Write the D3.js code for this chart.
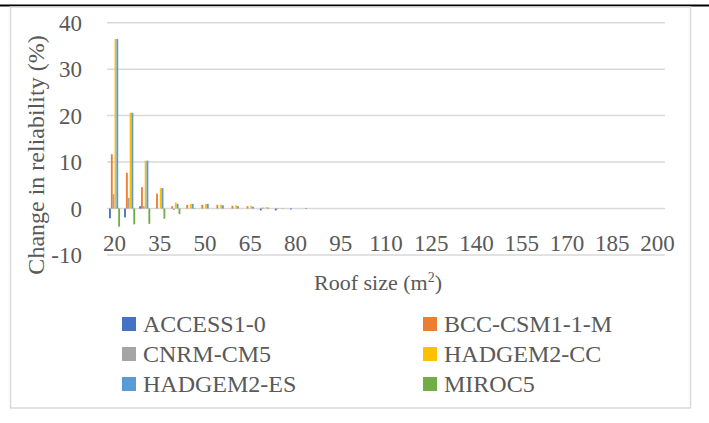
<!DOCTYPE html>
<html>
<head>
<meta charset="utf-8">
<script src="https://cdn.jsdelivr.net/npm/d3@7"></script>
<style>
  html, body { margin: 0; padding: 0; background: #fff; }
  svg { display: block; }
</style>
</head>
<body>
<svg id="chart"></svg>
<script>
// Roof size categories (m2)
const categories = [20, 25, 30, 35, 40, 45, 50, 55, 60, 65, 70, 75, 80, 85, 90, 95, 100,
  105, 110, 115, 120, 125, 130, 135, 140, 145, 150, 155, 160, 165, 170, 175, 180, 185, 190, 195, 200];
const xTickLabels = [20, 35, 50, 65, 80, 95, 110, 125, 140, 155, 170, 185, 200];
const yTicks = [-10, 0, 10, 20, 30, 40];

const seriesNames = ["ACCESS1-0", "BCC-CSM1-1-M", "CNRM-CM5", "HADGEM2-CC", "HADGEM2-ES", "MIROC5"];
const seriesColors = ["#4472C4", "#ED7D31", "#A5A5A5", "#FFC000", "#5B9BD5", "#70AD47"];

// change in reliability (%)
const access = [-2.1, -1.9, 0.5, 0, 0, 0, 0, 0, 0, 0, -0.4, -0.4, -0.2, -0.1, 0, 0, 0,
  0, 0, 0, 0, 0, 0, 0, 0, 0, 0, 0, 0, 0, 0, 0, 0, 0, 0, 0, 0];
const bcc = [11.7, 7.7, 4.6, 3.2, 0.5, 0.8, 0.8, 0.8, 0.6, 0.5, 0.2, 0.1, 0, 0, 0, 0, 0,
  0, 0, 0, 0, 0, 0, 0, 0, 0, 0, 0, 0, 0, 0, 0, 0, 0, 0, 0, 0];
const cnrm = [3.1, 2.3, 0.5, 0, -0.3, 0, 0, 0, 0, 0, 0, 0, 0, 0, 0, 0, 0,
  0, 0, 0, 0, 0, 0, 0, 0, 0, 0, 0, 0, 0, 0, 0, 0, 0, 0, 0, 0];
const hadgemCC = [36.5, 20.6, 10.3, 4.4, 1.3, 1.0, 1.0, 0.8, 0.7, 0.6, 0.3, 0.1, 0, 0, 0, 0, 0,
  0, 0, 0, 0, 0, 0, 0, 0, 0, 0, 0, 0, 0, 0, 0, 0, 0, 0, 0, 0];
const hadgemES = [36.5, 20.6, 10.3, 4.4, 1.0, 1.0, 1.0, 0.7, 0.5, 0.4, 0.2, 0.05, 0, 0, 0, 0, 0,
  0, 0, 0, 0, 0, 0, 0, 0, 0, 0, 0, 0, 0, 0, 0, 0, 0, 0, 0, 0];
const miroc = [-3.9, -3.4, -3.3, -2.2, -1.2, -0.1, 0, 0, 0, 0, 0, 0, 0, 0, 0, 0, 0,
  0, 0, 0, 0, 0, 0, 0, 0, 0, 0, 0, 0, 0, 0, 0, 0, 0, 0, 0, 0];
const seriesValues = [access, bcc, cnrm, hadgemCC, hadgemES, miroc];

const width = 709;
const height = 423;
const FONT = "'Liberation Serif', 'DejaVu Serif', serif";

const svg = d3.select("#chart")
  .attr("width", width)
  .attr("height", height)
  .attr("font-family", FONT);

// page rule above the chart and chart frame
svg.append("line")
  .attr("x1", 0).attr("x2", width)
  .attr("y1", 5.5).attr("y2", 5.5)
  .attr("stroke", "#000").attr("stroke-width", 2);

svg.append("rect")
  .attr("x", 10.5).attr("y", 7)
  .attr("width", 680).attr("height", 401)
  .attr("fill", "none")
  .attr("stroke", "#d9d9d9")
  .attr("stroke-width", 1.5);

const plot = { left: 107, right: 665, top: 22.7, bottom: 255 };

const x = d3.scaleBand()
  .domain(categories)
  .range([plot.left, plot.right])
  .paddingInner(0)
  .paddingOuter(0);

// Excel-like gap width 219%
const gap = 2.19;
const barW = x.bandwidth() / (seriesNames.length + gap);
const xs = d3.scaleBand()
  .domain(d3.range(seriesNames.length))
  .range([gap / 2 * barW, x.bandwidth() - gap / 2 * barW]);

const y = d3.scaleLinear()
  .domain([-10, 40])
  .range([plot.bottom, plot.top]);

// gridlines
svg.append("g")
  .selectAll("line")
  .data(yTicks)
  .join("line")
  .attr("x1", plot.left).attr("x2", plot.right)
  .attr("y1", d => y(d)).attr("y2", d => y(d))
  .attr("stroke", "#d9d9d9")
  .attr("stroke-width", 1.5);

// y tick labels
svg.append("g")
  .selectAll("text")
  .data(yTicks)
  .join("text")
  .attr("x", 82)
  .attr("y", d => y(d) + 8)
  .attr("text-anchor", "end")
  .attr("fill", "#595959")
  .attr("font-size", 23)
  .text(d => d);

// bars
const groups = svg.append("g")
  .selectAll("g")
  .data(seriesValues)
  .join("g")
  .attr("fill", (d, i) => seriesColors[i]);

groups.each(function(vals, si) {
  d3.select(this).selectAll("rect")
    .data(vals.map((v, ci) => ({ v, c: categories[ci] })).filter(d => d.v !== 0))
    .join("rect")
    .attr("x", d => x(d.c) + xs(si))
    .attr("width", xs.bandwidth())
    .attr("y", d => y(Math.max(0, d.v)))
    .attr("height", d => Math.abs(y(d.v) - y(0)));
});

// x tick labels (every third category)
svg.append("g")
  .selectAll("text")
  .data(xTickLabels)
  .join("text")
  .attr("x", d => x(d) + x.bandwidth() / 2)
  .attr("y", 251)
  .attr("text-anchor", "middle")
  .attr("fill", "#595959")
  .attr("font-size", 23)
  .text(d => d);

// axis titles
const xTitle = svg.append("text")
  .attr("x", 378)
  .attr("y", 290)
  .attr("text-anchor", "middle")
  .attr("fill", "#595959")
  .attr("font-size", 22);
xTitle.append("tspan").text("Roof size (m");
xTitle.append("tspan").attr("dy", -8).attr("font-size", 14).text("2");
xTitle.append("tspan").attr("dy", 8).text(")");

svg.append("text")
  .attr("transform", "translate(44,155) rotate(-90)")
  .attr("text-anchor", "middle")
  .attr("fill", "#595959")
  .attr("font-size", 24)
  .text("Change in reliability (%)");

// legend
const legend = svg.append("g")
  .selectAll("g")
  .data(seriesNames)
  .join("g")
  .attr("transform", (d, i) => `translate(${i % 2 === 0 ? 122 : 423},${324 + Math.floor(i / 2) * 30})`);

legend.append("rect")
  .attr("x", 0).attr("y", -7)
  .attr("width", 14).attr("height", 14)
  .attr("fill", (d, i) => seriesColors[i]);

legend.append("text")
  .attr("x", 21)
  .attr("y", 8)
  .attr("fill", "#595959")
  .attr("font-size", 24)
  .text(d => d);
</script>
</body>
</html>
